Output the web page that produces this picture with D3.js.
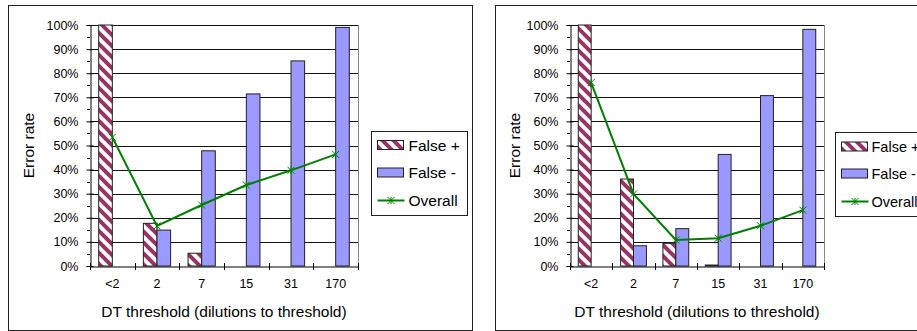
<!DOCTYPE html>
<html><head><meta charset="utf-8">
<script src="https://cdn.jsdelivr.net/npm/d3@7"></script>
<style>
html,body{margin:0;padding:0;background:#fff;}
svg{display:block;font-family:"Liberation Sans",Arial,sans-serif;}
</style></head>
<body>
<svg id="chart" width="917" height="331"></svg>
<script>
// ---- data ----
const categories = ["<2", "2", "7", "15", "31", "170"];
const seriesNames = ["False +", "False -", "Overall"];
const leftFalsePos = [100, 17.7, 5.3, 0, 0, 0];
const leftFalseNeg = [0, 14.9, 47.8, 71.4, 85.1, 99.0];
const leftOverall = [53.4, 16.6, 25.3, 33.6, 39.7, 46.3];
const rightFalsePos = [100, 36.1, 9.4, 0.4, 0, 0];
const rightFalseNeg = [0, 8.4, 15.5, 46.3, 70.7, 98.2];
const rightOverall = [76.1, 29.9, 10.8, 11.5, 16.7, 23.2];
const yTicks = [0, 10, 20, 30, 40, 50, 60, 70, 80, 90, 100];
const yMinorTicks = [5, 15, 25, 35, 45, 55, 65, 75, 85, 95];
const yTitle = "Error rate";
const xTitle = "DT threshold (dilutions to threshold)";

const svg = d3.select("#chart");
const defs = svg.append("defs");
const pat = defs.append("pattern").attr("id", "hatch")
  .attr("patternUnits", "userSpaceOnUse").attr("width", 11).attr("height", 11);
pat.append("rect").attr("width", 11).attr("height", 11).attr("fill", "#fff");
pat.append("path").attr("d", "M-3,-3L14,14M-3,8L3,14M8,-3L14,3")
  .attr("stroke", "#993366").attr("stroke-width", 4);

const POS_FILL = "url(#hatch)";
const NEG_FILL = "#9999ff";
const LINE_COL = "#008000";

function star(sel, x, y, r) {
  const p = `M${x - r},${y - r}L${x + r},${y + r}M${x - r},${y + r}L${x + r},${y - r}M${x},${y - r}L${x},${y + r}`;
  sel.append("path").attr("d", p).attr("stroke", LINE_COL).attr("stroke-width", 1).attr("fill", "none");
}

function drawChart(cfg) {
  const { frame, plot, legend, fp, fn, ov } = cfg;
  // outer frame
  svg.append("rect").attr("x", frame.x + 0.5).attr("y", frame.y + 0.5)
    .attr("width", frame.w).attr("height", frame.h)
    .attr("fill", "#fff").attr("stroke", "#222").attr("stroke-width", 1);

  const x = d3.scaleBand().domain(categories).range([plot.x0, plot.x1]).padding(0);
  const y = d3.scaleLinear().domain([0, 100]).range([plot.y1, plot.y0]);
  const g = svg.append("g");

  // gridlines
  g.append("g").selectAll("line").data(yTicks.filter(d => d > 0)).join("line")
    .attr("x1", plot.x0).attr("x2", plot.x1)
    .attr("y1", d => Math.round(y(d)) + 0.5).attr("y2", d => Math.round(y(d)) + 0.5)
    .attr("stroke", "#111").attr("stroke-width", 1);
  // right border of plot
  g.append("line").attr("x1", plot.x1 + 0.5).attr("x2", plot.x1 + 0.5)
    .attr("y1", plot.y0).attr("y2", plot.y1).attr("stroke", "#888");

  const bw = x.bandwidth() * 0.305;
  const barG = g.append("g");
  categories.forEach((c, i) => {
    const cx = x(c) + x.bandwidth() / 2;
    if (fp[i] > 0) {
      barG.append("rect").attr("x", cx - bw).attr("width", bw)
        .attr("y", y(fp[i])).attr("height", y(0) - y(fp[i]))
        .attr("fill", POS_FILL).attr("stroke", "#222").attr("stroke-width", 1);
    }
    if (fn[i] > 0) {
      barG.append("rect").attr("x", cx).attr("width", bw)
        .attr("y", y(fn[i])).attr("height", y(0) - y(fn[i]))
        .attr("fill", NEG_FILL).attr("stroke", "#222").attr("stroke-width", 1);
    }
  });

  // axes
  const yAxis = d3.axisLeft(y).tickValues(yTicks).tickSize(4).tickPadding(8)
    .tickFormat(d => d + "%");
  const ya = g.append("g").attr("transform", `translate(${plot.x0 + 0.5},0)`).call(yAxis);
  ya.select(".domain").attr("stroke", "#000");
  ya.selectAll(".tick line").attr("stroke", "#000").attr("x2", -4).attr("x1", 3);
  ya.selectAll(".tick text").attr("font-size", 12.5).attr("font-family", "Liberation Sans, Arial, sans-serif").attr("fill", "#000");
  g.append("g").selectAll("line").data(yMinorTicks).join("line")
    .attr("x1", plot.x0 - 3).attr("x2", plot.x0)
    .attr("y1", d => Math.round(y(d)) + 0.5).attr("y2", d => Math.round(y(d)) + 0.5)
    .attr("stroke", "#000");

  const xa = g.append("g").attr("transform", `translate(0,${plot.y1 + 0.5})`)
    .call(d3.axisBottom(x).tickSize(0).tickPadding(13));
  xa.select(".domain").attr("stroke", "#000");
  xa.selectAll(".tick text").attr("font-size", 12.5).attr("font-family", "Liberation Sans, Arial, sans-serif").attr("fill", "#000");
  // category boundary ticks
  const bounds = categories.map(c => x(c)).concat([plot.x1]);
  g.append("g").selectAll("line").data(bounds).join("line")
    .attr("x1", d => Math.round(d) + 0.5).attr("x2", d => Math.round(d) + 0.5)
    .attr("y1", plot.y1 - 3).attr("y2", plot.y1 + 4).attr("stroke", "#000");

  // overall line
  const line = d3.line().x((d, i) => x(categories[i]) + x.bandwidth() / 2).y(d => y(d));
  g.append("path").datum(ov).attr("d", line).attr("fill", "none")
    .attr("stroke", LINE_COL).attr("stroke-width", 2);
  ov.forEach((v, i) => star(g, x(categories[i]) + x.bandwidth() / 2, y(v), 3.5));

  // titles
  svg.append("text").attr("transform", `translate(${plot.titleX},${(plot.y0 + plot.y1) / 2}) rotate(-90)`)
    .attr("text-anchor", "middle").attr("dy", "0.35em").attr("font-size", 15.5).text(yTitle);
  svg.append("text").attr("x", (plot.x0 + plot.x1) / 2).attr("y", 316.5)
    .attr("text-anchor", "middle").attr("font-size", 15.5).text(xTitle);

  // legend
  const lg = svg.append("g");
  lg.append("rect").attr("x", legend.x + 0.5).attr("y", legend.y + 0.5)
    .attr("width", legend.w).attr("height", legend.h)
    .attr("fill", "#fff").attr("stroke", "#222");
  const rows = legend.rows;
  const sx = legend.x + 6.5;
  lg.append("rect").attr("x", sx).attr("y", rows[0] - 4.5).attr("width", 26).attr("height", 9)
    .attr("fill", POS_FILL).attr("stroke", "#222");
  lg.append("rect").attr("x", sx).attr("y", rows[1] - 4.5).attr("width", 26).attr("height", 9)
    .attr("fill", NEG_FILL).attr("stroke", "#222");
  lg.append("line").attr("x1", sx).attr("x2", sx + 27).attr("y1", rows[2]).attr("y2", rows[2])
    .attr("stroke", LINE_COL).attr("stroke-width", 2);
  star(lg, sx + 13.5, rows[2], 3.5);
  seriesNames.forEach((s, i) => {
    lg.append("text").attr("x", sx + legend.tx).attr("y", rows[i]).attr("dy", "0.36em")
      .attr("font-size", legend.fs).text(s);
  });
}

drawChart({
  frame: { x: 8, y: 5, w: 464, h: 325 },
  plot: { x0: 90, x1: 358, y0: 25, y1: 266, titleX: 29 },
  legend: { x: 371, y: 131, w: 96, h: 84, rows: [145, 172.5, 200.5], fs: 15.5, tx: 31 },
  fp: leftFalsePos, fn: leftFalseNeg, ov: leftOverall
});
drawChart({
  frame: { x: 495, y: 5, w: 480, h: 325 },
  plot: { x0: 570, x1: 824, y0: 25, y1: 266, titleX: 515 },
  legend: { x: 835, y: 132, w: 96, h: 84, rows: [146.5, 173.5, 201.5], fs: 14.5, tx: 30 },
  fp: rightFalsePos, fn: rightFalseNeg, ov: rightOverall
});
</script>
</body></html>
